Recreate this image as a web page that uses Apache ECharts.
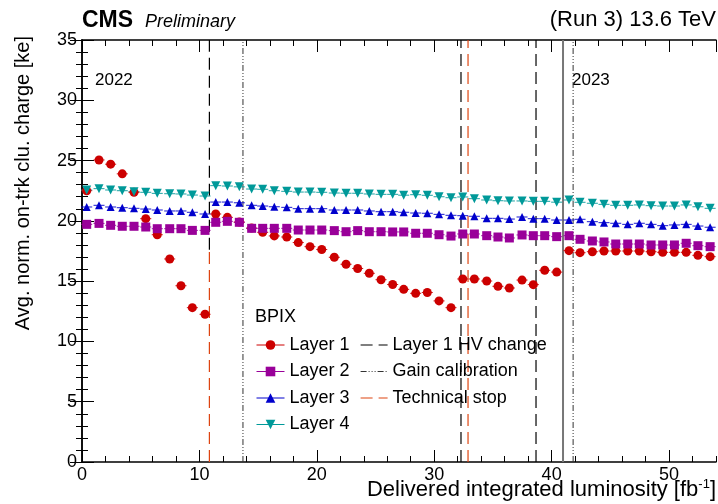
<!DOCTYPE html>
<html lang="en">
<head>
<meta charset="UTF-8">
<title>BPIX on-track cluster charge vs luminosity</title>
<script src="https://cdn.jsdelivr.net/npm/echarts@6/dist/echarts.min.js"></script>
<style>
    html, body { margin: 0; padding: 0; background: #fff; }
    #chart { width: 718px; height: 504px; }
</style>
</head>
<body>
<div id="chart"></div>
<script>
// delivered integrated luminosity of each point [fb^-1]
const lumi = [0.40, 1.45, 2.44, 3.43, 4.43, 5.43, 6.41, 7.47, 8.43, 9.40, 10.48,
    11.39, 12.38, 13.40, 14.45, 15.39, 16.38, 17.44, 18.42, 19.42, 20.42,
    21.49, 22.49, 23.48, 24.47, 25.47, 26.46, 27.40, 28.42, 29.41, 30.41,
    31.43, 32.43, 33.42, 34.47, 35.43, 36.40, 37.48, 38.44, 39.41, 40.43,
    41.48, 42.42, 43.47, 44.46, 45.46, 46.48, 47.47, 48.47, 49.46, 50.46,
    51.46, 52.46, 53.50];

// average normalised on-track cluster charge [ke]
const layer1 = [22.5, 25.05, 24.7, 23.9, 22.37, 20.18, 18.85, 16.84, 14.62, 12.8, 12.25,
    20.57, 20.29, 19.9, 19.4, 19.05, 18.75, 18.66, 18.2, 17.86, 17.62,
    16.98, 16.4, 16.05, 15.65, 15.12, 14.72, 14.32, 13.99, 14.06, 13.36,
    12.8, 15.18, 15.18, 15.01, 14.57, 14.43, 15.09, 14.71, 15.9, 15.75,
    17.53, 17.36, 17.44, 17.5, 17.5, 17.5, 17.5, 17.44, 17.39, 17.39,
    17.39, 17.14, 17.03];
const layer2 = [19.71, 19.79, 19.63, 19.55, 19.55, 19.49, 19.35, 19.35, 19.35, 19.21, 19.21,
    19.88, 19.96, 19.88, 19.38, 19.38, 19.38, 19.38, 19.24, 19.24, 19.24,
    19.19, 19.10, 19.19, 19.10, 19.10, 19.08, 19.08, 18.97, 18.97, 18.85,
    18.74, 18.91, 18.91, 18.77, 18.66, 18.58, 18.83, 18.77, 18.77, 18.69,
    18.77, 18.47, 18.33, 18.25, 18.08, 18.08, 18.08, 18.0, 18.0, 18.0,
    18.14, 17.94, 17.86];
const layer3 = [21.15, 21.29, 21.15, 21.09, 21.04, 20.98, 20.9, 20.82, 20.82, 20.71, 20.57,
    21.56, 21.56, 21.5, 21.29, 21.23, 21.17, 21.12, 21.01, 21.01, 21.01,
    20.9, 20.9, 20.9, 20.82, 20.76, 20.76, 20.71, 20.65, 20.63, 20.54,
    20.46, 20.43, 20.38, 20.21, 20.21, 20.15, 20.32, 20.18, 20.18, 20.07,
    20.07, 20.13, 19.93, 19.85, 19.8, 19.71, 19.8, 19.71, 19.6, 19.66,
    19.71, 19.57, 19.47];
const layer4 = [22.56, 22.67, 22.56, 22.5, 22.42, 22.37, 22.28, 22.25, 22.23, 22.14, 22.06,
    22.92, 22.89, 22.82, 22.64, 22.62, 22.5, 22.45, 22.39, 22.39, 22.37,
    22.31, 22.29, 22.29, 22.23, 22.2, 22.2, 22.13, 22.17, 22.12, 22.0,
    21.92, 21.98, 21.84, 21.73, 21.67, 21.65, 21.65, 21.62, 21.62, 21.55,
    21.73, 21.54, 21.46, 21.37, 21.29, 21.29, 21.32, 21.26, 21.23, 21.23,
    21.32, 21.17, 21.04];

// vertical markers: [lumi, yFrom, yTo]
const hvChange = [[10.85, 17.6, 35], [32.28, 0, 35], [38.67, 0, 35]];
const gainCalib = [[13.71, 0, 35], [41.83, 0, 35]];
const techStop = [[10.85, 0, 17.6], [32.88, 0, 35]];
const yearEnd = [[40.97, 0, 35]];

const xTicks = [0, 10, 20, 30, 40, 50];

const FONT = '"Liberation Sans", Arial, sans-serif';
const chart = echarts.init(document.getElementById('chart'));

function pts(vals) {
    return lumi.map((x, i) => [x, vals[i]]);
}

const layers = [
    { name: 'Layer 1', vals: layer1, color: '#cc0000', symbol: 'circle', size: 9, rot: 0 },
    { name: 'Layer 2', vals: layer2, color: '#990099', symbol: 'rect', size: 9, rot: 0 },
    { name: 'Layer 3', vals: layer3, color: '#0000cc', symbol: 'triangle', size: 8, rot: 0 },
    { name: 'Layer 4', vals: layer4, color: '#009999', symbol: 'triangle', size: 9, rot: 180 }
];

const series = [];

layers.forEach((l, i) => {
    // x error bars
    series.push({
        type: 'custom',
        name: l.name + ' err',
        data: pts(l.vals),
        silent: true,
        z: 3,
        encode: { x: 0, y: 1 },
        renderItem: function(params, api) {
            const a = api.coord([api.value(0) - 0.47, api.value(1)]);
            const b = api.coord([api.value(0) + 0.47, api.value(1)]);
            return {
                type: 'line',
                shape: { x1: a[0], y1: a[1], x2: b[0], y2: b[1] },
                style: { stroke: l.color, lineWidth: 1, opacity: 0.9 }
            };
        }
    });
    series.push({
        type: 'line',
        name: l.name,
        data: pts(l.vals),
        symbol: l.symbol,
        symbolSize: l.size,
        symbolRotate: l.rot,
        showAllSymbol: true,
        itemStyle: { color: l.color, opacity: 1 },
        lineStyle: { color: l.color, opacity: 0, width: 1 },
        z: 5 + i
    });
});

function vlines(name, list, style) {
    list.forEach(v => {
        series.push({
            type: 'line',
            name: name,
            data: [[v[0], v[1]], [v[0], v[2]]],
            symbol: 'none',
            silent: true,
            lineStyle: style,
            itemStyle: { color: style.color },
            z: 2
        });
    });
}

const hvStyle = { color: '#000', width: 1.2, type: [12, 6] };
const gainStyle = { color: '#333', width: 1, type: [6, 2, 1, 2, 1, 2, 1, 2] };
const techStyle = { color: '#dd4411', width: 1.2, type: [12, 6] };

vlines('Layer 1 HV change', hvChange, hvStyle);
vlines('Gain calibration', gainCalib, gainStyle);
vlines('Technical stop', techStop, techStyle);
vlines('year', yearEnd, { color: '#777', width: 2, type: 'solid' });

const tickLine = { color: '#000', width: 1 };
function xAxisDef(pos, major) {
    return {
        type: 'value', min: 0, max: 54, position: pos,
        interval: major ? 10 : 2,
        axisLine: { show: major, lineStyle: { color: '#000', width: 1.5 } },
        axisTick: { show: true, inside: true, length: major ? 12 : 6, lineStyle: tickLine },
        axisLabel: {
            show: major && pos === 'bottom', showMaxLabel: false, margin: 4,
            color: '#000', fontSize: 18, fontFamily: FONT,
            formatter: v => xTicks.includes(v) ? String(v) : ''
        },
        splitLine: { show: false }
    };
}
function yAxisDef(pos) {
    return {
        type: 'value', min: 0, max: 35, interval: 5, position: pos,
        axisLine: { show: true, lineStyle: { color: '#000', width: 1.5 } },
        axisTick: { show: true, inside: true, length: 12, lineStyle: tickLine },
        minorTick: { show: true, splitNumber: 5, length: 6, lineStyle: tickLine },
        axisLabel: {
            show: pos === 'left', margin: 5,
            color: '#000', fontSize: 18, fontFamily: FONT
        },
        splitLine: { show: false }
    };
}

const legendText = { color: '#000', fontSize: 18, fontFamily: FONT, lineHeight: 18 };

chart.setOption({
    animation: false,
    backgroundColor: '#fff',
    grid: { left: 82, right: 2, top: 40, bottom: 42, containLabel: false },
    xAxis: [xAxisDef('bottom', true), xAxisDef('bottom', false), xAxisDef('top', true), xAxisDef('top', false)],
    yAxis: [yAxisDef('left'), yAxisDef('right')],
    legend: [{
        left: 256, top: 336, orient: 'vertical', selectedMode: false, padding: 0,
        itemWidth: 28, itemHeight: 12, itemGap: 8.5,
        textStyle: legendText,
        lineStyle: { opacity: 1, width: 1 },
        data: ['Layer 1', 'Layer 2', 'Layer 3', 'Layer 4']
    }, {
        left: 360, top: 336, orient: 'vertical', selectedMode: false, padding: 0,
        itemWidth: 27, itemHeight: 12, itemGap: 8.5,
        textStyle: legendText,
        itemStyle: { opacity: 0 },
        data: [
            { name: 'Layer 1 HV change', lineStyle: hvStyle },
            { name: 'Gain calibration', lineStyle: gainStyle },
            { name: 'Technical stop', lineStyle: techStyle }
        ]
    }],
    graphic: [
        { type: 'text', left: 82, top: 9, style: { text: 'CMS', font: 'bold 23px ' + FONT, fill: '#000' } },
        { type: 'text', left: 145, top: 13, style: { text: 'Preliminary', font: 'italic 18px ' + FONT, fill: '#000' } },
        { type: 'text', right: 2, top: 9, style: { text: '(Run 3) 13.6 TeV', font: '22px ' + FONT, fill: '#000' } },
        { type: 'text', left: 95, top: 72, style: { text: '2022', font: '17px ' + FONT, fill: '#000' } },
        { type: 'text', left: 572, top: 72, style: { text: '2023', font: '17px ' + FONT, fill: '#000' } },
        { type: 'text', left: 255, top: 308, style: { text: 'BPIX', font: '18px ' + FONT, fill: '#000' } },
        {
            type: 'text', right: 2, top: 478,
            style: {
                text: '{a|Delivered integrated luminosity [fb}{s|-1}{a|]}',
                rich: {
                    a: { font: '22px ' + FONT, fill: '#000' },
                    s: { font: '13px ' + FONT, fill: '#000', verticalAlign: 'top', padding: [0, 0, 10, 0] }
                }
            }
        },
        {
            type: 'text', x: 23, y: 36, rotation: Math.PI / 2,
            style: {
                text: 'Avg. norm. on-trk clu. charge [ke]',
                font: '20px ' + FONT, fill: '#000',
                align: 'right', verticalAlign: 'middle'
            }
        }
    ],
    series: series
});
</script>
</body>
</html>
